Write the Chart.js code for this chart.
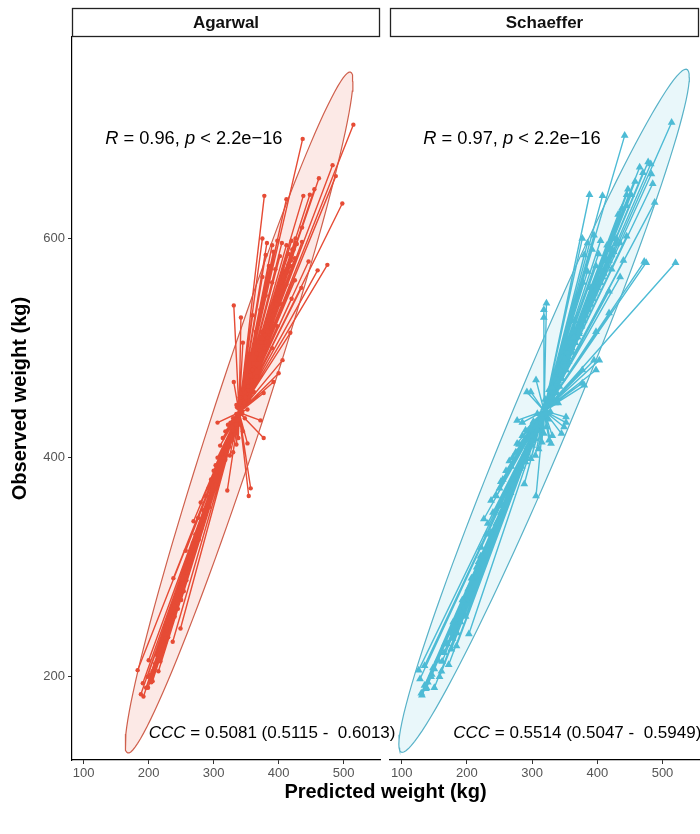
<!DOCTYPE html>
<html>
<head>
<meta charset="utf-8">
<script src="https://cdn.jsdelivr.net/npm/chart.js@4.4.1/dist/chart.umd.min.js"></script>
<style>
  body { margin: 0; background: #fff; width: 700px; height: 834px; overflow: hidden; position: relative; }
  canvas { position: absolute; top: 0; }
  #left { left: 0; }
  #right { left: 385px; }
  #xtitle { position: absolute; left: 72px; width: 627px; top: 780px; text-align: center;
            font: bold 20px "Liberation Sans", Arial, sans-serif; color: #000; }
</style>
</head>
<body>
<canvas id="left" width="420" height="834"></canvas>
<canvas id="right" width="315" height="834"></canvas>
<div id="xtitle">Predicted weight (kg)</div>
<script>
// axis setup
const xTicks = [100, 200, 300, 400, 500];
const yTicks = [200, 400, 600];
const xRange = [82, 556];
const yRange = [124, 784];
const panelNames = ['Agarwal', 'Schaeffer'];

// [predicted, observed] pairs
const agarwalPoints = [
  [183,206],[191,194],[192,182],[188,184],[196,190],[198,200],[203,202],[206,196],[210,212],[215,205],
  [212,220],[218,214],[222,225],[226,232],[230,236],[237,232],[233,250],[240,255],[249,244],[245,262],
  [250,270],[254,278],[238,290],[258,288],[200,215],[228,245],[208,206],
  [199,190],[203,198],[209,208],[215,220],[222,232],[228,242],[236,256],[244,270],
  [204,195],[206,205],[215,215],[217,225],[226,235],[228,245],[238,255],[239,265],[249,275],[250,285],
  [262,305],[257,315],[265,310],[268,322],[272,330],[269,342],[276,345],[280,359],[284,352],[288,365],
  [292,372],[296,380],[300,388],[303,393],[306,400],[310,411],[314,418],[318,424],[321,370],[354,365],
  [357,372],[322,430],[326,432],[306,432],[330,436],[335,440],
  [252,285],[257,295],[263,305],[269,315],[275,325],[281,335],[292,355],[303,375],
  [260,295],[264,310],[277,325],[281,340],[293,355],[298,370],[310,385],
  [318,398],[325,402],[330,405],[320,410],[335,412],[328,416],[338,418],[332,421],[345,424],[336,427],
  [341,430],[330,433],[348,436],[339,439],[344,442],[352,444],[336,446],[347,449],[355,452],[342,455],
  [351,458],[358,461],[346,464],[362,467],[354,470],[366,474],[357,478],[370,482],[361,486],[374,490],
  [366,495],[378,500],[369,505],[382,510],[374,515],
  [318,403],[323,412],[328,420],[333,430],[338,438],[343,447],[348,456],[353,465],[358,474],[362,482],
  [366,490],[371,498],
  [315,400],[324,410],[326,420],[335,430],[337,440],[346,450],[348,460],[358,470],[359,480],[369,490],
  [319,405],[327,415],[330,425],[338,435],[342,445],[349,455],[353,465],[357,475],
  [372,434],[377,418],[352,413],[340,455],[348,450],[335,448],[345,462],[362,460],[331,469],[350,470],
  [377,459],[392,469],[400,477],[360,480],[370,490],[406,489],[355,495],[345,505],[338,445],[344,440],
  [378,505],[390,500],[365,515],[418,514],[398,520],[385,525],[342,528],[360,530],[372,535],[331,539],
  [405,540],[380,548],[395,545],[420,545],[435,555],[400,555],[390,560],[412,558],[375,565],[425,562],
  [408,570],[395,572],[385,575],[418,575],[460,571],[446,579],[475,576],[380,585],[392,588],[402,584],
  [415,586],[425,582],[375,600],[382,596],[390,594],[398,598],[405,596],[412,594],[420,598],[428,595],
  [436,597],
  [375,505],[379,512],[383,520],[387,527],[391,534],[395,541],[399,548],[403,555],[407,562],[411,569],
  [415,576],[419,583],[423,590],[426,596],[404,556],[396,545],[412,572],[420,585],[386,525],[408,565],
  [373,505],[383,515],[384,525],[394,535],[396,545],[405,555],[407,565],[416,575],[418,585],[427,595],
  [382,520],[397,540],[404,560],[419,580],[426,600],[391,530],[398,550],[414,570],[421,590],[436,610],
  [455,645],[462,655],[448,640],
  [515,704],[437,691],[483,667],[488,657],[378,639],[438,639],[498,632],[412,636]
];

const schaefferPoints = [
  [131,183],[137,189],[146,202],[126,206],[161,205],[172,211],[140,195],[150,190],[135,210],[155,215],
  [165,222],[158,200],[170,230],[178,235],[185,240],[203,239],[190,250],[195,262],[200,270],[208,280],
  [212,292],[148,208],[176,225],[184,228],[162,214],[198,255],
  [130,185],[135,192],[128,198],
  [138,190],[145,200],[156,215],[166,230],[181,250],[195,270],[209,290],[150,207],[174,240],[202,280],
  [175,240],[179,250],[190,260],[193,270],[204,280],[207,290],[218,300],[221,310],
  [218,305],[222,318],[226,344],[230,330],[237,361],[240,350],[245,365],[250,372],[255,380],[260,388],
  [265,397],[270,400],[275,405],[288,376],[306,365],[280,412],[285,420],[290,425],[300,430],[310,428],
  [329,413],[277,413],[285,432],[215,300],[232,340],[252,378],[268,392],
  [223,310],[238,330],[252,350],[266,370],[281,390],[295,410],[309,430],[245,340],[288,400],
  [233,320],[237,332],[250,344],[254,356],[267,368],[271,380],[284,392],[289,404],[301,416],[306,428],
  [290,396],[298,399],[305,402],[292,405],[310,408],[300,411],[315,414],[305,417],[296,420],[318,422],
  [308,425],[322,428],[312,430],[302,433],[325,435],[315,438],[308,440],[328,442],[318,445],[325,448],
  [335,450],[320,453],[330,456],[338,459],[326,462],[342,465],[334,468],[346,472],[338,476],[352,480],
  [344,484],[356,488],[348,492],[362,496],[354,500],[366,505],[358,509],[372,513],[364,517],[376,521],
  [323,450],[338,470],[352,490],[366,510],[330,460],
  [315,436],[314,440],[321,444],[320,448],[327,452],[326,456],[333,460],[331,464],[338,468],[337,472],
  [344,476],[343,480],[350,484],[349,488],[355,492],[354,496],[361,500],[307,430],[308,425],[300,420],
  [300,415],[293,410],
  [352,437],[349,428],[331,420],[345,422],[292,460],[277,434],[352,432],[326,416],[306,471],[298,460],
  [330,455],[340,450],[380,466],[377,468],[377,480],[398,480],[395,489],[403,489],[350,490],[340,470],
  [360,500],[370,510],
  [398,515],[375,520],[365,525],[318,528],[418,532],[318,535],[322,541],[385,540],[418,552],[390,555],
  [378,560],[405,560],[435,565],[410,568],[385,570],[422,572],[398,575],[472,579],[475,578],[520,578],
  [440,580],[412,582],[380,585],[402,586],[425,588],[392,590],[415,594],[385,596],[435,596],[377,600],
  [405,598],[425,600],[445,602],[395,603],
  [381,530],[395,550],[409,570],[423,590],[373,520],[402,560],[416,580],[388,540],
  [365,505],[364,510],[372,515],[371,520],[379,525],[379,530],[386,535],[386,540],[393,545],[393,550],
  [400,555],[400,560],[408,565],[407,570],[415,575],[414,580],[422,585],[421,590],[429,595],[429,600],
  [390,540],[404,560],[418,580],[375,520],
  [432,622],[445,630],[452,640],[438,628],[447,645],[458,652],
  [470,660],[478,670],[465,665],
  [514,706],[442,694],[482,668],[483,659],[485,650],[388,640],[408,639],[445,640],[488,633]
];

const corLabels = [
  [['R', true], [' = 0.96, ', false], ['p', true], [' < 2.2e\u221216', false]],
  [['R', true], [' = 0.97, ', false], ['p', true], [' < 2.2e\u221216', false]]
];
const cccLabels = [
  [['CCC', true], [' = 0.5081 (0.5115 -  0.6013)', false]],
  [['CCC', true], [' = 0.5514 (0.5047 -  0.5949)', false]]
];
const corPos = [[133, 691], [133, 691]];
const cccPos = [[200, 148], [179, 148]];

const colors = ['#E64B35', '#4DBBD5'];
const fills = ['rgba(230,75,53,0.12)', 'rgba(77,187,213,0.12)'];
const edges = ['#CF5F4C', '#58B2C8'];

const FONT = '"Liberation Sans", Arial, sans-serif';

// 95% normal ellipse, like stat_ellipse(type = "norm")
function normEllipse(pts, level, segs) {
  const n = pts.length;
  const mx = pts.reduce((s, p) => s + p[0], 0) / n;
  const my = pts.reduce((s, p) => s + p[1], 0) / n;
  let sxx = 0, syy = 0, sxy = 0;
  pts.forEach(p => {
    sxx += (p[0] - mx) ** 2; syy += (p[1] - my) ** 2; sxy += (p[0] - mx) * (p[1] - my);
  });
  sxx /= n - 1; syy /= n - 1; sxy /= n - 1;
  const d = n - 1;
  const fq = (d / 2) * (Math.pow(1 - level, -2 / d) - 1); // qf(level, 2, d)
  const radius = Math.sqrt(2 * fq);
  const r11 = Math.sqrt(sxx), r12 = sxy / r11, r22 = Math.sqrt(syy - r12 * r12);
  const out = [];
  for (let i = 0; i <= segs; i++) {
    const t = 2 * Math.PI * i / segs;
    const u = Math.cos(t), v = Math.sin(t);
    out.push({ x: mx + radius * u * r11, y: my + radius * (u * r12 + v * r22) });
  }
  return { out, mx, my };
}

function drawRich(ctx, parts, x, y, size) {
  let cx = x;
  parts.forEach(([txt, italic]) => {
    ctx.font = (italic ? 'italic ' : '') + size + 'px ' + FONT;
    ctx.fillText(txt, cx, y);
    cx += ctx.measureText(txt).width;
  });
}

const panelDecor = {
  id: 'panelDecor',
  afterDraw(chart, args, opts) {
    const { ctx, chartArea: a, scales } = chart;
    ctx.save();
    // facet strip
    ctx.fillStyle = '#fff';
    ctx.strokeStyle = '#222';
    ctx.lineWidth = 1.3;
    ctx.fillRect(a.left, 8, a.right - a.left, 29);
    ctx.strokeRect(a.left + 0.5, 8.5, a.right - a.left - 1, 28);
    ctx.fillStyle = '#111';
    ctx.font = 'bold 17px ' + FONT;
    ctx.textAlign = 'center';
    ctx.textBaseline = 'middle';
    ctx.fillText(opts.name, (a.left + a.right) / 2, 23);
    // annotations
    ctx.textAlign = 'left';
    ctx.fillStyle = '#000';
    drawRich(ctx, opts.cor, scales.x.getPixelForValue(opts.corAt[0]), scales.y.getPixelForValue(opts.corAt[1]), 18.3);
    drawRich(ctx, opts.ccc, scales.x.getPixelForValue(opts.cccAt[0]), scales.y.getPixelForValue(opts.cccAt[1]), 17);
    ctx.restore();
  }
};

function makePanel(canvasId, idx, pts, showY) {
  const ell = normEllipse(pts, 0.95, 120);
  const star = [];
  pts.forEach(p => { star.push({ x: p[0], y: p[1] }); star.push({ x: ell.mx, y: ell.my }); });
  const points = pts.map(p => ({ x: p[0], y: p[1] }));

  new Chart(document.getElementById(canvasId).getContext('2d'), {
    type: 'scatter',
    data: {
      datasets: [
        { data: points, showLine: false, pointStyle: idx ? 'triangle' : 'circle',
          pointRadius: idx ? 4.5 : 2.2, backgroundColor: colors[idx], borderColor: colors[idx],
          borderWidth: 0, order: 1 },
        { data: star, showLine: true, pointRadius: 0, borderColor: colors[idx], borderWidth: 1.4, order: 2 },
        { data: ell.out, showLine: true, pointRadius: 0, borderColor: edges[idx], borderWidth: 1.2,
          backgroundColor: fills[idx], fill: 'shape', tension: 0, order: 3 }
      ]
    },
    options: {
      responsive: false,
      animation: false,
      events: [],
      layout: { autoPadding: false,
        padding: showY ? { top: 37, right: 40, bottom: 0, left: 0 } : { top: 37, right: 1, bottom: 0, left: 5 } },
      plugins: {
        legend: { display: false },
        tooltip: { enabled: false },
        panelDecor: { name: panelNames[idx], cor: corLabels[idx], ccc: cccLabels[idx],
                      corAt: corPos[idx], cccAt: cccPos[idx] }
      },
      scales: {
        x: {
          type: 'linear', min: xRange[0], max: xRange[1],
          afterBuildTicks: s => { s.ticks = xTicks.map(v => ({ value: v })); },
          afterFit: s => { s.height = 74; },
          grid: { drawOnChartArea: false, drawTicks: true, tickLength: 4, color: '#333', tickWidth: 1 },
          border: { display: true, color: '#000', width: 1.2 },
          ticks: { color: '#555', padding: 2, font: { family: FONT, size: 13 } }
        },
        y: {
          type: 'linear', min: yRange[0], max: yRange[1], display: showY,
          afterBuildTicks: s => { s.ticks = yTicks.map(v => ({ value: v })); },
          afterFit: s => { if (showY) s.width = 72; },
          grid: { drawOnChartArea: false, drawTicks: true, tickLength: 4, color: '#333', tickWidth: 1 },
          border: { display: true, color: '#000', width: 1.2 },
          ticks: { color: '#555', padding: 3, font: { family: FONT, size: 13 } },
          title: { display: true, text: 'Observed weight (kg)', color: '#000',
                   padding: { top: 8, bottom: 0 }, font: { family: FONT, size: 20, weight: 'bold' } }
        }
      }
    },
    plugins: [panelDecor]
  });
}

makePanel('left', 0, agarwalPoints, true);
makePanel('right', 1, schaefferPoints, false);
</script>
</body>
</html>
